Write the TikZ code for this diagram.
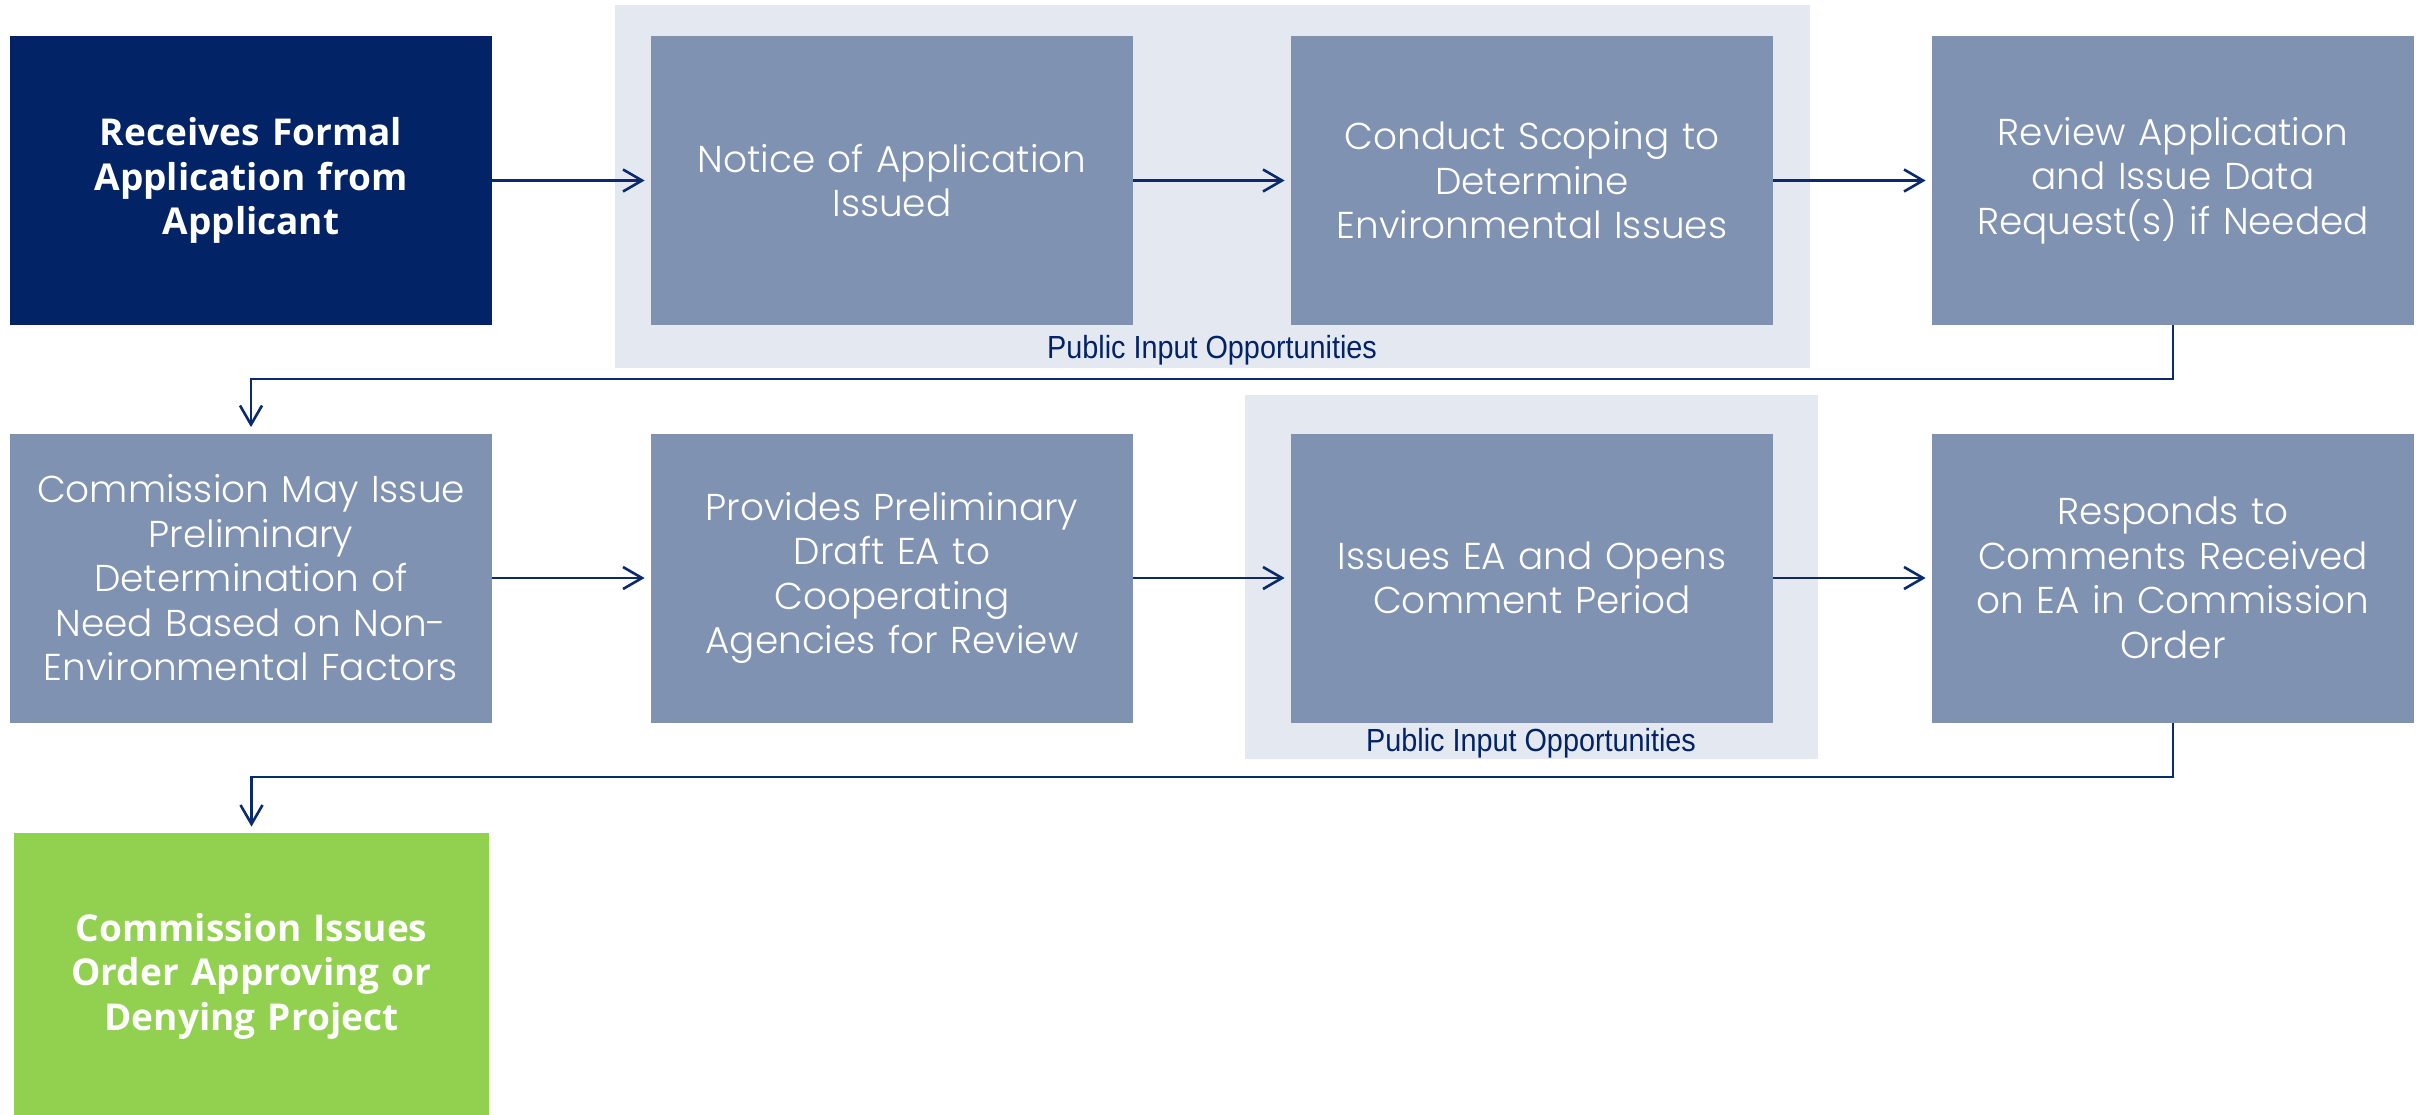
\documentclass[tikz,border=0pt]{standalone}
\usepackage{fontspec}
\usetikzlibrary{arrows.meta}
\newfontfamily\lightfont{Poppins Light}
\newfontfamily\heavyfont{Open Sans}
\newfontfamily\labelfont{Liberation Sans}
\definecolor{navy}{HTML}{022366}
\definecolor{boxblue}{HTML}{7F92B2}
\definecolor{bggray}{HTML}{E4E9F1}
\definecolor{okgreen}{HTML}{92D050}
\definecolor{arrownavy}{HTML}{0A2A6E}
\tikzset{
  stepbox/.style={fill=boxblue, draw=none, minimum width=241pt, minimum height=144.5pt,
    inner sep=0pt, text=white, align=center, text width=236pt,
    font=\lightfont\fontsize{18.7}{22.25}\selectfont},
  keybox/.style={stepbox, font=\heavyfont\bfseries\fontsize{18.5}{22.25}\selectfont},
  groupbg/.style={fill=bggray, draw=none},
  grouplabel/.style={text=navy, inner sep=0pt, font=\labelfont\fontsize{16}{18}\selectfont},
  flow/.style={draw=arrownavy, line width=1.3pt, -{Straight Barb[length=9.5pt, width=11pt, line width=1.3pt]}, shorten >=3pt},
  elbow/.style={draw=arrownavy, line width=1.3pt, -{Straight Barb[length=9.5pt, width=11pt, line width=1.3pt]}, shorten >=3pt}
}
\begin{document}
\begin{tikzpicture}[x=0.5pt, y=-0.5pt]
\useasboundingbox (0,0) rectangle (2428,1114);
\fill[white] (0,0) rectangle (2428,1114);
% group backgrounds
\fill[groupbg] (615,5) rectangle (1810,368);
\fill[groupbg] (1245,395) rectangle (1818,759);
\node[grouplabel] (lab1) at (1212,350) {\scalebox{0.9}[1]{Public Input Opportunities}};
\node[grouplabel] (lab2) at (1531,743) {\scalebox{0.9}[1]{Public Input Opportunities}};
% row 1
\node[keybox, fill=navy] (b1) at (251,180.5) {Receives Formal\\Application from\\Applicant};
\node[stepbox] (b2) at (892,180.5) {Notice of Application\\Issued};
\node[stepbox] (b3) at (1532,180.5) {Conduct Scoping to\\Determine\\Environmental Issues};
\node[stepbox] (b4) at (2173,180.5) {Review Application\\and Issue Data\\Request(s) if Needed};
% row 2
\node[stepbox] (b5) at (251,578) {Commission May Issue\\Preliminary\\Determination of\\Need Based on Non-\\Environmental Factors};
\node[stepbox] (b6) at (892,578) {Provides Preliminary\\Draft EA to\\Cooperating\\Agencies for Review};
\node[stepbox] (b7) at (1532,578) {Issues EA and Opens\\Comment Period};
\node[stepbox] (b8) at (2173,578) {Responds to\\Comments Received\\on EA in Commission\\Order};
% row 3
\node[keybox, fill=okgreen, minimum width=237.5pt, minimum height=143pt] (b9) at (251.5,976) {Commission Issues\\Order Approving or\\Denying Project};
% connectors
\draw[flow] (b1.east) -- (b2.west);
\draw[flow] (b2.east) -- (b3.west);
\draw[flow] (b3.east) -- (b4.west);
\draw[flow] (b5.east) -- (b6.west);
\draw[flow] (b6.east) -- (b7.west);
\draw[flow] (b7.east) -- (b8.west);
\coordinate (t1) at (2173,379);
\coordinate (t2) at (2173,777);
\draw[elbow] (b4.south) -- (t1) -| (b5.north);
\draw[elbow] (b8.south) -- (t2) -| (b9.north);
\end{tikzpicture}
\end{document}
